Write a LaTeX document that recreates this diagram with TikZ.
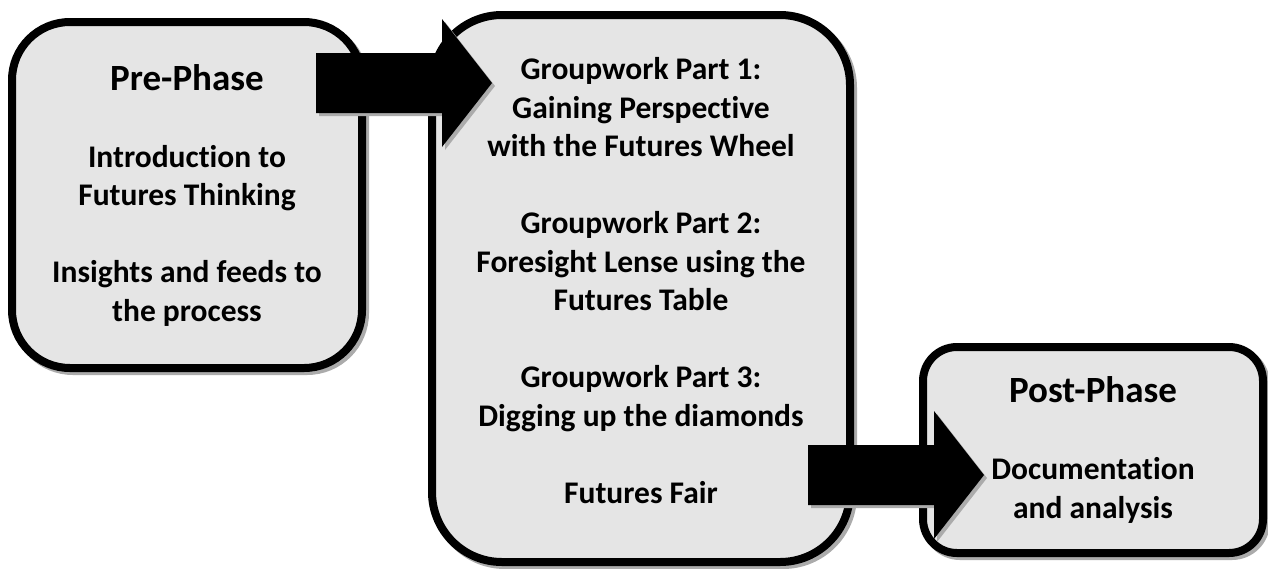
\documentclass[tikz,border=0pt]{standalone}
\usepackage{fontspec}
\setmainfont{Carlito}[RawFeature={-liga}]
\usetikzlibrary{calc}
\def\bodysize{\fontsize{31.5}{38.5}\selectfont}
\def\titlesize{\fontsize{37}{38.5}\selectfont}
\def\pgap{\\[38.5pt]}
\def\blockarrow(#1){\fill[bigarrow] (#1) -- ++(0,-30) -- ++(126,0) -- ++(0,-34) -- ++(50,64) -- ++(-50,64) -- ++(0,-34) -- ++(-126,0) -- cycle;}
\tikzset{
  phase/.style={draw=black, line width=8pt, fill=gray!20, align=center, inner sep=0pt,
    font=\bfseries\bodysize,
    preaction={draw=black!33, fill=black!33, line width=8pt, transform canvas={shift={(3pt,-3pt)}}}},
  bigarrow/.style={fill=black, preaction={fill=black!33, transform canvas={shift={(3pt,-3pt)}}}}
}

\begin{document}
\begin{tikzpicture}[x=1pt, y=-1pt]
		%%%%% START %%%%%
		\useasboundingbox (0,0) rectangle (1268,568);
		
		\node[phase, rounded corners=58pt, minimum width=350pt, minimum height=346pt] (pre) at (187,195)
			{{\titlesize Pre-Phase}\pgap Introduction to\\ Futures Thinking\pgap Insights and feeds to\\ the process};
		
		\node[phase, rounded corners=70pt, minimum width=418pt, minimum height=547pt, text depth=16pt] (group) at (641,288.5)
			{Groupwork Part 1:\\ Gaining Perspective\\ with the Futures Wheel\pgap
			 Groupwork Part 2:\\ Foresight Lense using the\\ Futures Table\pgap
			 Groupwork Part 3:\\ Digging up the diamonds\pgap Futures Fair};
		
		\node[phase, rounded corners=34pt, minimum width=340pt, minimum height=206pt] (post) at (1093,450)
			{{\titlesize Post-Phase}\pgap Documentation\\ and analysis};
		
		\coordinate (a1) at (316,83);
		\coordinate (a2) at (808,475);
		\blockarrow(a1)
		\blockarrow(a2)
		
		%%%%% END %%%%%
	\end{tikzpicture}
\end{document}
